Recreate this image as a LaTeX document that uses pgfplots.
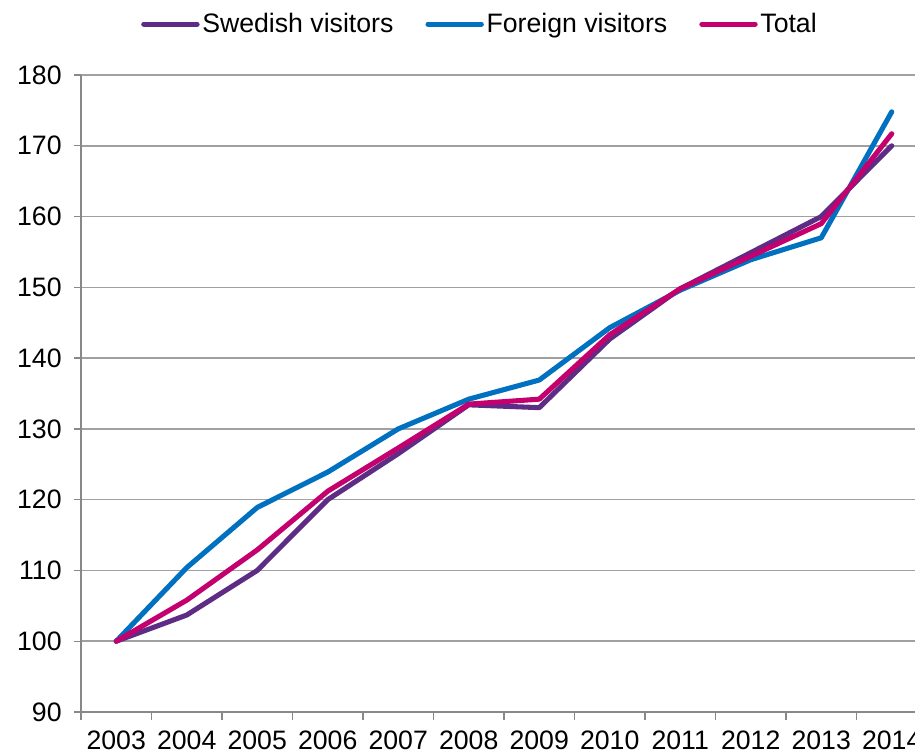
\documentclass[border=0pt]{standalone}
\usepackage{fontspec}
\setmainfont{Liberation Sans}
\usepackage{pgfplots}
\pgfplotsset{compat=1.18}
\definecolor{swedish}{HTML}{5E2C85}
\definecolor{foreign}{HTML}{0070C0}
\definecolor{total}{HTML}{C4006E}
\definecolor{gridgray}{HTML}{A0A0A0}
\definecolor{axisgray}{HTML}{888888}

\begin{document}
\begin{tikzpicture}[x=0.75pt,y=0.75pt]
\begin{axis}[
    name=main,
    at={(0,0)},
    anchor=south west,
    scale only axis,
    width=634.5pt,
    height=477.75pt,
    xmin=-0.5, xmax=11.5,
    ymin=90, ymax=180,
    ytick={90,100,...,180},
    xtick={0,...,11},
    xticklabels={2003,2004,2005,2006,2007,2008,2009,2010,2011,2012,2013,2014},
    minor xtick={-0.5,0.5,...,11.5},
    major x tick style={draw=none},
    minor x tick style={draw=axisgray, line width=1pt},
    minor tick length=6pt,
    major tick length=5pt,
    tick align=outside,
    axis x line*=bottom,
    axis y line*=left,
    axis line style={draw=axisgray, line width=1.2pt, -},
    y tick style={draw=axisgray, line width=1pt},
    ymajorgrids=true,
    grid style={draw=gridgray, line width=1.2pt},
    tick label style={font=\fontsize{20}{24}\selectfont},
    /pgf/number format/assume math mode=true,
    yticklabel style={xshift=-6pt},
    xticklabel style={yshift=-6pt},
    legend columns=3,
    legend style={draw=none, fill=none, at={(0.472,1)}, anchor=south,
        yshift=26pt, font=\fontsize{20}{24}\selectfont,
        /tikz/every even column/.append style={column sep=22pt}},
    legend cell align=left,
    legend image code/.code={\draw[#1, line width=3.8pt, line cap=round] (0pt,0pt) -- (40pt,0pt);},
]
\addplot[swedish, line width=3.8pt, line join=round, line cap=round] coordinates {
 (0,100) (1,103.7) (2,110.0) (3,120.0) (4,126.5) (5,133.4) (6,133.0) (7,142.7) (8,149.8) (9,154.9) (10,160.0) (11,170.0)};
\addlegendentry{Swedish visitors}
\addplot[foreign, line width=3.8pt, line join=round, line cap=round] coordinates {
 (0,100) (1,110.4) (2,118.9) (3,123.9) (4,130.0) (5,134.2) (6,136.9) (7,144.3) (8,149.6) (9,153.9) (10,157.0) (11,174.8)};
\addlegendentry{Foreign visitors}
\addplot[total, line width=3.8pt, line join=round, line cap=round] coordinates {
 (0,100) (1,105.8) (2,112.9) (3,121.2) (4,127.3) (5,133.5) (6,134.2) (7,143.3) (8,149.8) (9,154.4) (10,159.0) (11,171.7)};
\addlegendentry{Total}
\end{axis}
\pgfresetboundingbox
\path[use as bounding box] (-81,-42) rectangle (834,712);
\end{tikzpicture}
\end{document}
